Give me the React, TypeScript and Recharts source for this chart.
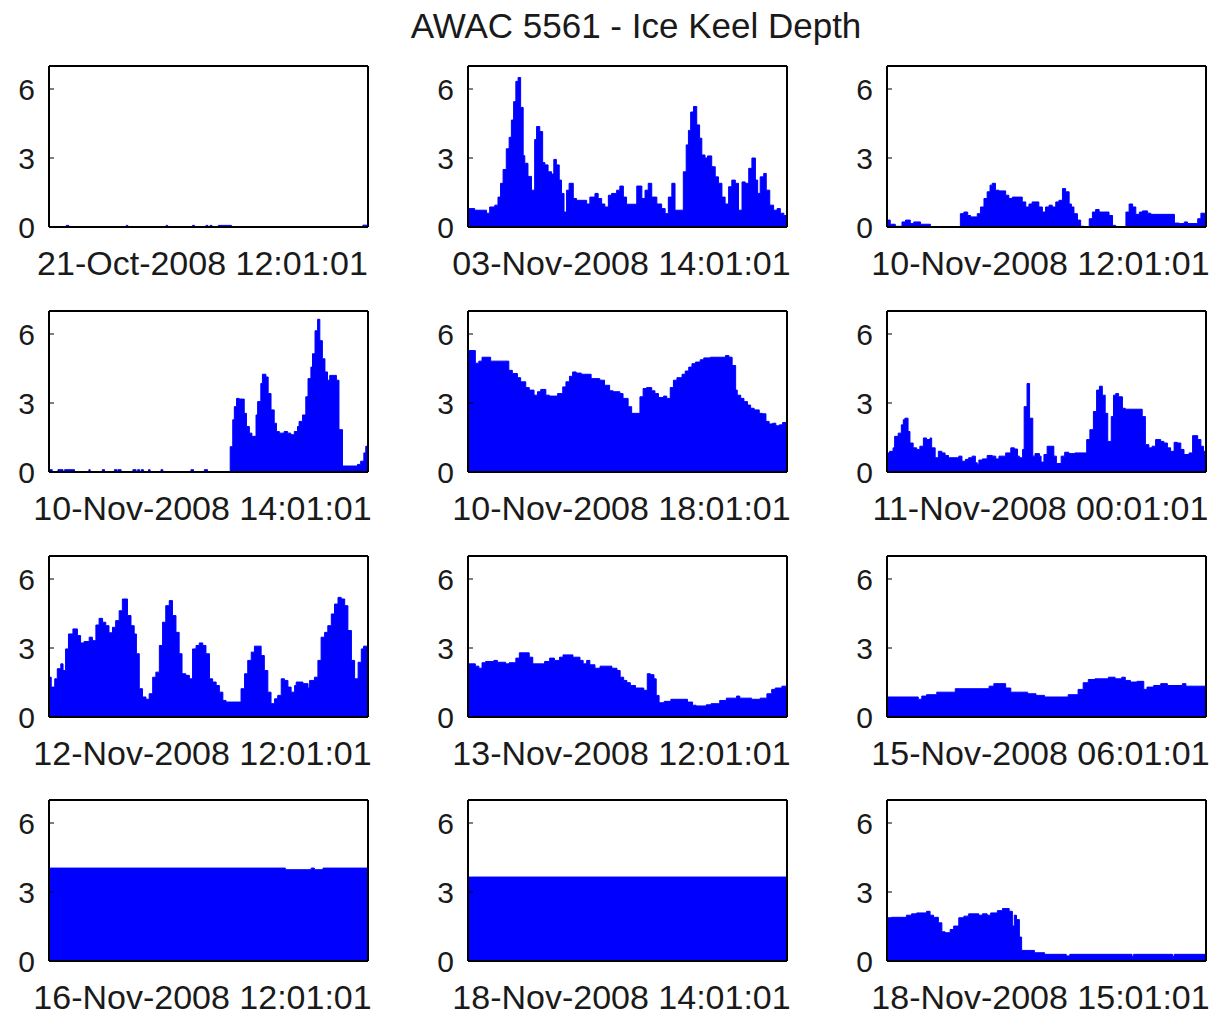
import React from 'react';
import { AreaChart, Area, XAxis, YAxis } from 'recharts';

// each series: [time within window (0-100), keel depth (m)], held until the next point
type Pt = [number, number];

const oct21_1201: Pt[] = [
  [0, 0], [5.4, 0.07], [6.2, 0], [24.2, 0.07], [24.7, 0], [36.7, 0.07], [37.2, 0],
  [45.0, 0.07], [45.6, 0], [49.2, 0.07], [49.8, 0], [50.5, 0.07], [51.1, 0],
  [53.1, 0.07], [57.2, 0], [98.4, 0.08], [100, 0.08],
];

const nov03_1401: Pt[] = [
  [0, 0.8], [2.1, 0.73], [5.8, 0.6], [6.8, 0.87], [8.4, 0.95], [9.4, 1.3], [10.2, 1.9],
  [11.0, 2.5], [12.0, 3.4], [12.9, 3.9], [13.6, 4.65], [14.3, 5.45], [15.0, 6.33],
  [15.7, 6.5], [16.5, 5.2], [17.3, 3.1], [17.8, 2.77], [18.8, 2.2], [19.9, 1.6],
  [20.9, 3.8], [21.5, 4.37], [22.5, 4.15], [23.4, 2.8], [24.1, 2.7], [25.1, 2.4],
  [26.2, 2.3], [26.9, 2.94], [27.7, 2.7], [28.6, 2.04], [29.3, 1.46], [30.1, 0.65],
  [30.9, 1.6], [31.7, 1.9], [33.0, 1.24], [34.0, 1.16], [37.2, 1.0], [38.2, 1.3],
  [39.8, 1.46], [40.8, 1.24], [41.9, 1.0], [42.9, 0.87], [44.0, 1.38], [45.0, 1.46],
  [46.6, 1.6], [47.6, 1.78], [48.7, 1.3], [49.7, 0.99], [52.9, 1.78], [54.5, 1.24],
  [55.5, 1.6], [56.5, 1.9], [57.6, 1.3], [59.2, 1.0], [60.7, 0.8], [61.8, 0.58],
  [62.8, 1.3], [63.9, 1.9], [64.9, 0.73], [67.5, 2.4], [68.4, 3.57], [69.1, 4.2],
  [69.8, 5.0], [70.7, 5.24], [71.7, 4.44], [72.6, 3.86], [73.3, 3.13], [74.3, 3.0],
  [75.1, 3.09], [76.4, 2.62], [77.5, 2.18], [78.5, 1.9], [79.6, 1.3], [80.6, 1.0],
  [81.7, 1.75], [82.7, 2.04], [83.8, 1.9], [84.8, 0.73], [85.9, 1.96], [86.9, 1.9],
  [88.0, 2.55], [89.0, 3.0], [90.1, 2.04], [90.8, 1.46], [91.6, 2.18], [92.7, 2.33],
  [93.5, 1.6], [94.6, 0.95], [95.8, 0.73], [96.9, 0.8], [97.9, 0.6], [99.0, 0.5],
  [100, 0.5],
];

const nov10_1201: Pt[] = [
  [0, 0.3], [1.0, 0.12], [2.6, 0.03], [4.7, 0.22], [5.8, 0.3], [7.3, 0.15], [8.4, 0.22],
  [10.5, 0.12], [13.6, 0], [23.0, 0.58], [24.1, 0.65], [25.3, 0.5], [26.2, 0.44],
  [28.3, 0.58], [29.3, 0.87], [30.4, 1.24], [31.4, 1.53], [32.3, 1.82], [33.0, 1.9],
  [34.0, 1.6], [35.1, 1.57], [37.2, 1.38], [38.2, 1.24], [39.3, 1.3], [42.4, 1.09],
  [43.5, 0.87], [44.5, 1.0], [45.5, 1.09], [47.6, 0.87], [48.7, 0.65], [49.7, 0.87],
  [50.8, 0.95], [51.8, 0.87], [52.9, 1.09], [53.9, 1.16], [55.0, 1.67], [56.0, 1.53],
  [57.1, 1.0], [57.8, 0.87], [58.6, 0.58], [59.7, 0.3], [60.7, 0.03], [61.8, 0],
  [63.4, 0.36], [64.4, 0.65], [65.4, 0.76], [66.5, 0.65], [69.6, 0.5], [70.7, 0.07],
  [71.7, 0], [74.9, 0.65], [75.9, 1.0], [77.0, 0.87], [78.0, 0.55], [79.1, 0.65],
  [80.1, 0.7], [81.7, 0.6], [82.7, 0.55], [90.1, 0.17], [91.6, 0.15], [93.2, 0.22],
  [94.2, 0.15], [97.4, 0.36], [98.4, 0.6], [100, 0.6],
];

const nov10_1401: Pt[] = [
  [0, 0], [0.2, 0.1], [1.0, 0], [2.8, 0.1], [4.4, 0], [4.9, 0.1], [8.0, 0],
  [12.5, 0.1], [12.9, 0], [16.7, 0.1], [17.4, 0], [20.5, 0.1], [21.3, 0],
  [21.6, 0.1], [22.6, 0], [26.3, 0.1], [27.3, 0], [27.8, 0.1], [28.4, 0],
  [28.9, 0.1], [29.6, 0], [31.2, 0.1], [31.7, 0], [35.1, 0.1], [35.7, 0],
  [44.5, 0.1], [45.3, 0], [48.7, 0.1], [49.7, 0],
  [56.8, 1.1], [57.6, 2.27], [58.1, 2.84], [58.8, 3.2], [59.6, 3.17], [61.2, 2.55],
  [61.9, 1.98], [62.8, 1.69], [63.6, 1.55], [64.9, 2.48], [65.4, 3.06], [66.4, 3.85],
  [66.9, 4.25], [68.0, 4.13], [68.7, 3.41], [69.6, 2.7], [70.6, 2.12], [71.3, 1.76],
  [72.2, 1.69], [73.7, 1.76], [74.8, 1.69], [75.8, 1.62], [76.9, 1.76], [77.9, 1.98],
  [78.4, 2.2], [79.5, 2.48], [80.5, 3.27], [81.2, 4.06], [82.1, 4.56], [82.6, 5.14],
  [83.4, 6.14], [84.2, 6.64], [84.9, 5.71], [85.7, 4.92], [86.5, 4.35], [87.3, 3.99],
  [88.0, 4.2], [90.1, 3.99], [90.9, 1.84], [92.0, 0.26], [96.7, 0.33], [97.7, 0.47],
  [98.7, 0.83], [99.3, 1.12], [100, 1.12],
];

const nov10_1801: Pt[] = [
  [0, 5.28], [2.3, 4.73], [3.4, 4.82], [4.4, 4.99], [7.1, 4.82], [12.8, 4.42],
  [13.9, 4.28], [15.5, 4.1], [16.5, 3.92], [18.1, 3.67], [19.2, 3.56], [20.7, 3.34],
  [21.8, 3.49], [22.8, 3.59], [24.4, 3.34], [25.5, 3.3], [28.1, 3.41], [29.7, 3.7],
  [30.7, 3.92], [31.8, 4.16], [32.8, 4.35], [33.9, 4.3], [35.5, 4.25], [38.6, 4.06],
  [41.3, 3.99], [42.8, 3.77], [44.4, 3.53], [45.5, 3.49], [47.6, 3.41], [48.6, 3.2],
  [50.2, 2.84], [51.3, 2.55], [53.9, 3.27], [54.9, 3.63], [56.0, 3.67], [57.6, 3.53],
  [58.6, 3.41], [59.7, 3.24], [61.3, 3.3], [62.3, 3.2], [63.4, 3.67], [64.4, 3.99],
  [65.5, 4.1], [67.1, 4.25], [68.1, 4.39], [69.2, 4.56], [70.2, 4.71], [71.3, 4.78],
  [72.8, 4.88], [73.9, 4.96], [76.0, 4.99], [80.7, 5.06], [81.8, 4.99], [82.8, 4.63],
  [83.9, 3.56], [84.4, 3.34], [85.5, 3.2], [86.5, 3.06], [87.6, 2.91], [88.6, 2.77],
  [89.7, 2.7], [91.3, 2.55], [92.3, 2.53], [93.4, 2.2], [94.4, 2.09], [95.5, 2.12],
  [96.5, 2.01], [97.6, 2.05], [98.6, 2.15], [100, 2.15],
];

const nov11_0001: Pt[] = [
  [0, 0.83], [0.8, 0.9], [1.9, 1.05], [2.4, 1.55], [3.5, 1.69], [4.5, 2.05], [5.1, 2.27],
  [5.6, 2.34], [6.6, 1.76], [7.2, 1.26], [8.2, 1.05], [9.3, 0.98], [10.3, 1.12],
  [11.4, 1.48], [12.4, 1.41], [13.5, 1.48], [14.0, 1.05], [15.1, 0.62], [16.1, 0.9],
  [17.2, 0.83], [18.2, 0.72], [19.3, 0.62], [22.5, 0.69], [23.5, 0.47], [24.6, 0.55],
  [25.6, 0.62], [26.7, 0.69], [27.7, 0.4], [28.3, 0.33], [28.8, 0.52], [29.9, 0.57],
  [31.4, 0.72], [33.0, 0.69], [34.1, 0.57], [35.1, 0.69], [37.2, 0.83], [38.8, 1.05],
  [39.9, 1.0], [40.9, 0.69], [41.5, 0.62], [42.5, 0.98], [43.0, 2.84], [43.9, 3.85],
  [44.7, 2.34], [45.7, 0.69], [46.4, 0.8], [47.8, 0.69], [48.3, 0.43], [49.2, 0.76],
  [50.2, 1.12], [52.3, 0.69], [53.1, 0.37], [54.6, 0.69], [55.7, 0.86], [57.0, 0.8],
  [58.9, 0.83], [62.6, 1.41], [63.6, 1.84], [64.7, 2.63], [65.7, 3.56], [66.6, 3.73],
  [67.5, 3.34], [68.4, 2.55], [69.2, 1.33], [70.3, 2.41], [71.0, 3.34], [71.7, 3.41],
  [72.6, 3.27], [73.8, 2.77], [74.7, 2.73], [80.0, 2.41], [81.0, 1.19], [82.1, 1.05],
  [83.1, 1.12], [84.2, 1.41], [85.8, 1.33], [86.8, 1.26], [87.9, 1.05], [88.9, 0.9],
  [90.0, 1.29], [91.0, 1.26], [92.1, 0.98], [93.1, 0.76], [94.7, 0.83], [95.8, 1.58],
  [97.4, 1.41], [98.4, 1.12], [99.2, 0.9], [100, 0.9],
];

const nov12_1201: Pt[] = [
  [0, 1.73], [0.7, 1.3], [1.8, 1.66], [2.6, 2.1], [3.7, 2.31], [4.4, 2.02], [5.2, 2.96],
  [6.1, 3.61], [7.5, 3.83], [8.9, 3.54], [9.9, 3.22], [11.0, 3.28], [12.6, 3.47],
  [13.6, 3.32], [14.7, 4.0], [15.7, 4.29], [16.8, 4.12], [17.8, 3.97], [18.8, 3.66],
  [19.9, 3.9], [20.9, 4.19], [22.0, 4.62], [23.0, 5.13], [24.6, 4.41], [25.7, 3.97],
  [26.7, 3.61], [27.4, 2.75], [28.3, 1.23], [29.3, 0.87], [30.4, 0.77], [31.4, 1.01],
  [32.5, 1.73], [33.5, 1.95], [34.6, 3.11], [35.6, 4.12], [36.6, 4.84], [37.7, 5.06],
  [38.7, 4.41], [39.8, 3.68], [40.8, 2.75], [41.7, 1.88], [42.9, 1.81], [44.0, 1.66],
  [45.0, 2.96], [46.1, 3.11], [47.1, 3.22], [48.2, 3.11], [49.2, 2.75], [50.3, 1.66],
  [51.3, 1.52], [52.4, 1.37], [53.4, 1.08], [54.5, 0.72], [55.5, 0.65], [60.2, 1.23],
  [61.3, 1.88], [62.3, 2.46], [63.4, 2.82], [64.4, 3.08], [66.5, 2.67], [67.5, 2.02],
  [68.6, 1.08], [69.6, 0.58], [70.7, 0.79], [71.7, 0.94], [72.8, 1.66], [73.8, 1.59],
  [74.9, 1.3], [75.9, 1.08], [77.0, 1.37], [77.5, 1.52], [79.6, 1.45], [81.2, 1.26],
  [81.7, 1.59], [83.2, 1.73], [84.3, 2.46], [85.3, 3.47], [86.4, 3.68], [87.4, 3.97],
  [88.5, 4.48], [89.5, 4.91], [90.6, 5.2], [91.6, 5.13], [92.7, 4.84], [93.7, 3.76],
  [94.8, 2.46], [95.8, 1.66], [96.9, 2.38], [97.9, 2.96], [98.6, 3.08], [100, 3.08],
];

const nov13_1201: Pt[] = [
  [0, 2.31], [2.3, 2.21], [3.4, 2.12], [4.4, 2.36], [5.5, 2.41], [8.1, 2.46], [9.2, 2.38],
  [11.8, 2.31], [12.9, 2.36], [15.0, 2.56], [16.1, 2.79], [19.2, 2.6], [20.3, 2.31],
  [24.0, 2.41], [25.6, 2.56], [27.1, 2.46], [28.7, 2.6], [29.8, 2.7], [32.9, 2.6],
  [35.1, 2.46], [36.1, 2.31], [37.2, 2.46], [38.2, 2.27], [39.8, 2.12], [41.4, 2.21],
  [45.1, 2.12], [46.7, 2.02], [47.7, 1.73], [48.8, 1.59], [49.8, 1.49], [50.9, 1.37],
  [52.5, 1.26], [55.1, 1.16], [56.2, 1.88], [57.2, 1.84], [58.3, 1.66], [59.0, 0.94],
  [59.9, 0.62], [61.5, 0.68], [63.6, 0.77], [68.8, 0.65], [70.4, 0.51], [71.5, 0.48],
  [74.7, 0.53], [76.2, 0.58], [78.9, 0.72], [81.0, 0.82], [84.2, 0.91], [85.2, 0.82],
  [88.9, 0.77], [91.6, 0.82], [93.7, 1.01], [95.2, 1.2], [96.3, 1.26], [98.4, 1.34],
  [100, 1.34],
];

const nov15_0601: Pt[] = [
  [0, 0.87], [9.8, 0.77], [10.9, 0.91], [12.4, 0.97], [15.6, 1.08], [21.4, 1.23],
  [32.0, 1.34], [33.5, 1.45], [37.2, 1.26], [38.8, 1.08], [44.1, 1.01], [46.7, 0.94],
  [49.4, 0.87], [56.8, 0.97], [59.9, 1.2], [61.5, 1.49], [63.1, 1.63], [65.2, 1.66],
  [69.4, 1.73], [71.5, 1.66], [73.6, 1.73], [74.7, 1.59], [76.3, 1.52], [78.4, 1.55],
  [80.5, 1.2], [81.5, 1.3], [83.6, 1.37], [85.8, 1.45], [87.9, 1.37], [92.6, 1.45],
  [93.7, 1.34], [100, 1.34],
];

const nov16_1201: Pt[] = [
  [0, 4.04], [74.1, 3.97], [82.2, 4.04], [83.2, 3.97], [85.9, 4.04], [100, 4.04],
];

const nov18_1401: Pt[] = [[0, 3.65], [100, 3.65]];

const nov18_1501: Pt[] = [
  [0, 1.88], [1.4, 1.9], [6.1, 1.99], [7.7, 2.05], [9.3, 2.09], [12.4, 2.16], [13.5, 1.99],
  [14.6, 1.9], [16.1, 1.66], [17.2, 1.27], [18.2, 1.23], [19.8, 1.37], [20.9, 1.52],
  [22.5, 1.88], [24.1, 1.95], [25.6, 2.05], [28.8, 1.99], [29.9, 2.05], [31.4, 1.99],
  [32.5, 2.09], [34.6, 2.19], [36.2, 2.28], [38.3, 2.16], [39.3, 1.52], [39.9, 1.99],
  [40.6, 1.8], [41.5, 1.04], [42.2, 0.46], [46.2, 0.36], [49.4, 0.29], [56.2, 0.22],
  [57.3, 0.29], [76.8, 0.2], [77.3, 0.29], [89.5, 0.2], [90.0, 0.29], [100, 0.29],
];

const windowLabels = [
  '21-Oct-2008 12:01:01', '03-Nov-2008 14:01:01', '10-Nov-2008 12:01:01',
  '10-Nov-2008 14:01:01', '10-Nov-2008 18:01:01', '11-Nov-2008 00:01:01',
  '12-Nov-2008 12:01:01', '13-Nov-2008 12:01:01', '15-Nov-2008 06:01:01',
  '16-Nov-2008 12:01:01', '18-Nov-2008 14:01:01', '18-Nov-2008 15:01:01',
];
const windowSeries = [
  oct21_1201, nov03_1401, nov10_1201,
  nov10_1401, nov10_1801, nov11_0001,
  nov12_1201, nov13_1201, nov15_0601,
  nov16_1201, nov18_1401, nov18_1501,
];
const depthTicks = [0, 3, 6];

const TEXT = '#1a1a1a';
const FILL = '#0000ff';
const AXIS = { stroke: '#000', strokeWidth: 2 };
const TICK = { stroke: '#000', strokeWidth: 1 };

// subplot grid
const PLOT_LEFT = [49, 468, 887];
const PLOT_TOP = [66, 311, 556, 800];
const PLOT_W = 319;
const PLOT_H = 161;
const Y_AXIS_W = 49;
const TOP_PAD = 9;
const X_AXIS_H = 62;

function KeelPanel({ series, label, left, top }: { series: Pt[]; label: string; left: number; top: number }) {
  const data = series.map(([t, depth]) => ({ t, depth }));
  return (
    <div style={{ position: 'absolute', left: left - Y_AXIS_W, top: top - TOP_PAD - 1 }}>
      <AreaChart
        width={Y_AXIS_W + PLOT_W + 1 + 8}
        height={TOP_PAD + 1 + PLOT_H + X_AXIS_H}
        data={data}
        margin={{ top: TOP_PAD, right: 8, bottom: 0, left: 0 }}
      >
        <XAxis
          xAxisId="b"
          dataKey="t"
          type="number"
          domain={[0, 100]}
          tick={false}
          tickLine={false}
          axisLine={AXIS}
          height={X_AXIS_H}
          label={{ value: label, position: 'insideBottom', offset: 14, dx: -6, fontSize: 34, fill: TEXT }}
        />
        <XAxis
          xAxisId="t"
          orientation="top"
          dataKey="t"
          type="number"
          domain={[0, 100]}
          tick={false}
          tickLine={false}
          axisLine={AXIS}
          height={1}
        />
        <YAxis
          yAxisId="l"
          domain={[0, 7]}
          ticks={depthTicks}
          interval={0}
          width={Y_AXIS_W}
          tickSize={-5}
          tickMargin={19}
          tickLine={TICK}
          axisLine={AXIS}
          tick={{ fontSize: 30, fill: TEXT }}
        />
        <YAxis
          yAxisId="r"
          orientation="right"
          domain={[0, 7]}
          ticks={depthTicks}
          interval={0}
          width={1}
          tickSize={-5}
          tick={false}
          tickLine={TICK}
          axisLine={AXIS}
        />
        <Area
          xAxisId="b"
          yAxisId="l"
          dataKey="depth"
          type="stepAfter"
          baseValue={0}
          fill={FILL}
          fillOpacity={1}
          stroke={FILL}
          strokeWidth={1}
          dot={false}
          activeDot={false}
          isAnimationActive={false}
        />
      </AreaChart>
    </div>
  );
}

export default function App() {
  return (
    <div
      style={{
        position: 'absolute', left: 0, top: 0, width: 1215, height: 1012, overflow: 'hidden',
        background: '#fff', fontFamily: '"Liberation Sans", Arial, sans-serif',
      }}
    >
      <svg width={1215} height={50} style={{ position: 'absolute', left: 0, top: 0 }}>
        <text x={636} y={38} textAnchor="middle" fontSize={35} fill={TEXT}>
          AWAC 5561 - Ice Keel Depth
        </text>
      </svg>
      {windowSeries.map((series, i) => (
        <KeelPanel
          key={windowLabels[i]}
          series={series}
          label={windowLabels[i]}
          left={PLOT_LEFT[i % 3]}
          top={PLOT_TOP[Math.floor(i / 3)]}
        />
      ))}
    </div>
  );
}
